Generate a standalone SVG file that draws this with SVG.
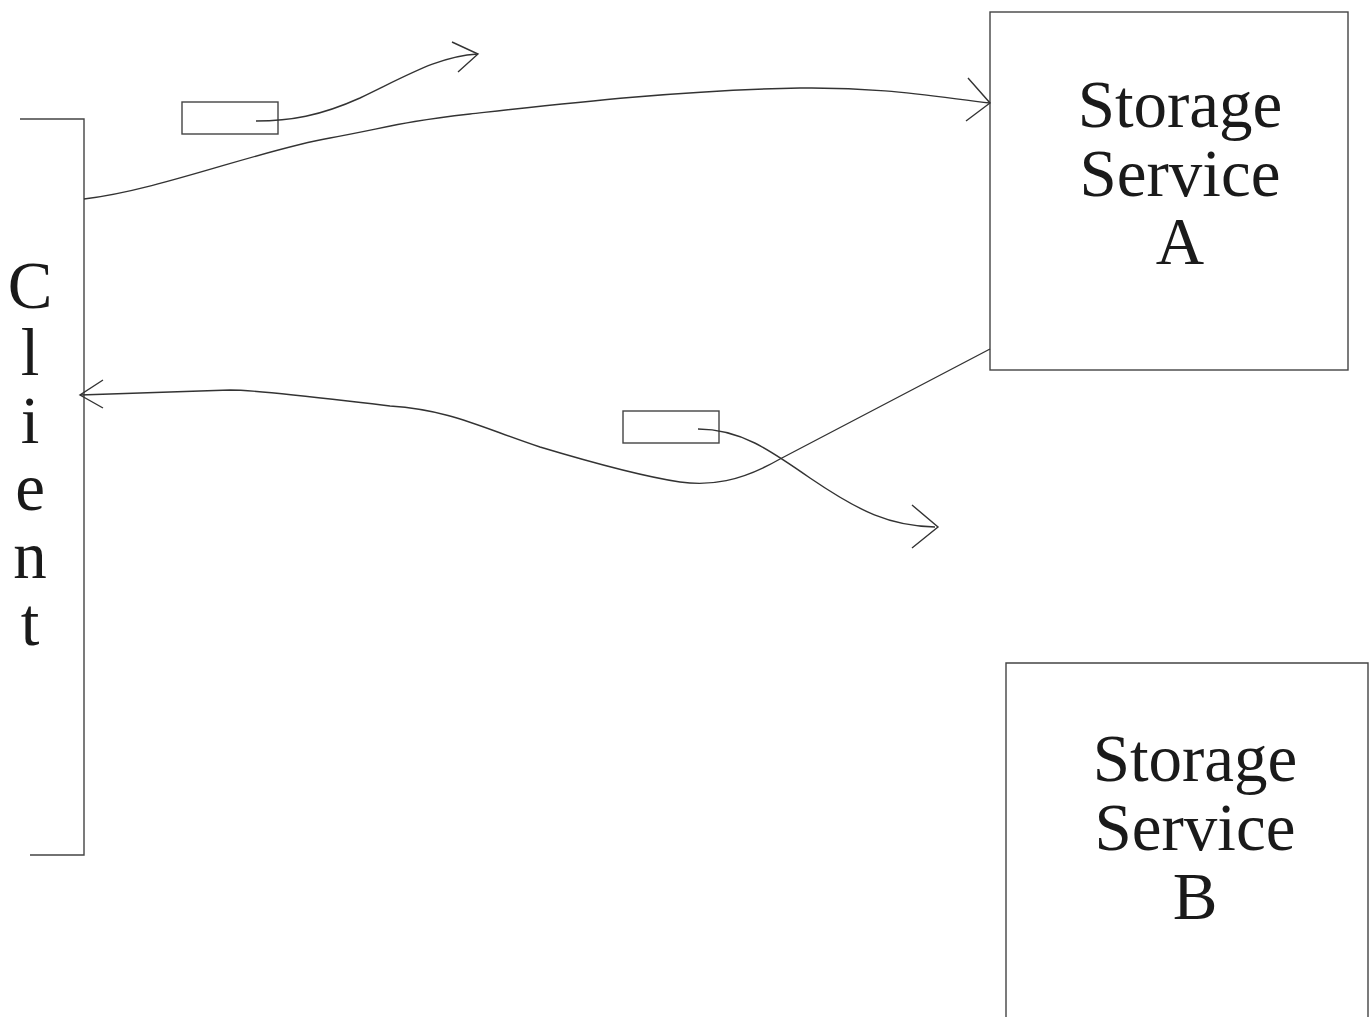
<svg xmlns="http://www.w3.org/2000/svg" width="1369" height="1017" viewBox="0 0 1369 1017">
<style>
.ln{fill:none;stroke:#333;stroke-width:1.4}
.bx{fill:none;stroke:#444;stroke-width:1.4}
.t{font-family:"Palatino Linotype","Liberation Serif","DejaVu Serif",serif;font-size:67px;fill:#1a1a1a;text-anchor:middle}
</style>
<rect width="1369" height="1017" fill="#fff"/>
<g id="client">
<path class="bx" d="M20 119 H84 V855 H30"/>
<text class="t" x="30" y="308">C</text>
<text class="t" x="30" y="375">l</text>
<text class="t" x="30" y="443">i</text>
<text class="t" x="30" y="510">e</text>
<text class="t" x="30" y="578">n</text>
<text class="t" x="30" y="645">t</text>
</g>
<g id="storageA">
<rect class="bx" x="990" y="12" width="358" height="358"/>
<text class="t" x="1180" y="127">Storage</text>
<text class="t" x="1180" y="196">Service</text>
<text class="t" x="1180" y="264">A</text>
</g>
<g id="storageB">
<path class="bx" d="M1006 1017 V663 H1368 V1017"/>
<text class="t" x="1195" y="781">Storage</text>
<text class="t" x="1195" y="850">Service</text>
<text class="t" x="1195" y="919">B</text>
</g>
<g id="msg1"><rect class="bx" x="182" y="102" width="96" height="32"/></g>
<g id="msg2"><rect class="bx" x="623" y="411" width="96" height="32"/></g>
<g id="connectors">
<path class="ln" d="M84 199 C160 190 260 150 330 138 C390 127 400 122 470 114 C560 104 680 90 800 88 C880 87 930 96 990 103"/>
<path class="ln" d="M968 78 L990 103 L966 121"/>
<path class="ln" d="M256 121 C290 121 320 116 360 98 C410 74 440 56 478 54"/>
<path class="ln" d="M452 42 L478 54 L458 72"/>
<path class="ln" d="M990 349 L780 459 C740 482 710 486 680 482 C640 476 590 462 540 447 C480 427 450 410 390 406 C320 398 260 390 230 390 L80 395"/>
<path class="ln" d="M103 380 L80 395 L103 408"/>
<path class="ln" d="M698 429 C740 429 770 450 810 478 C860 512 890 526 935 527"/>
<path class="ln" d="M912 505 L938 527 L912 548"/>
</g>
</svg>
